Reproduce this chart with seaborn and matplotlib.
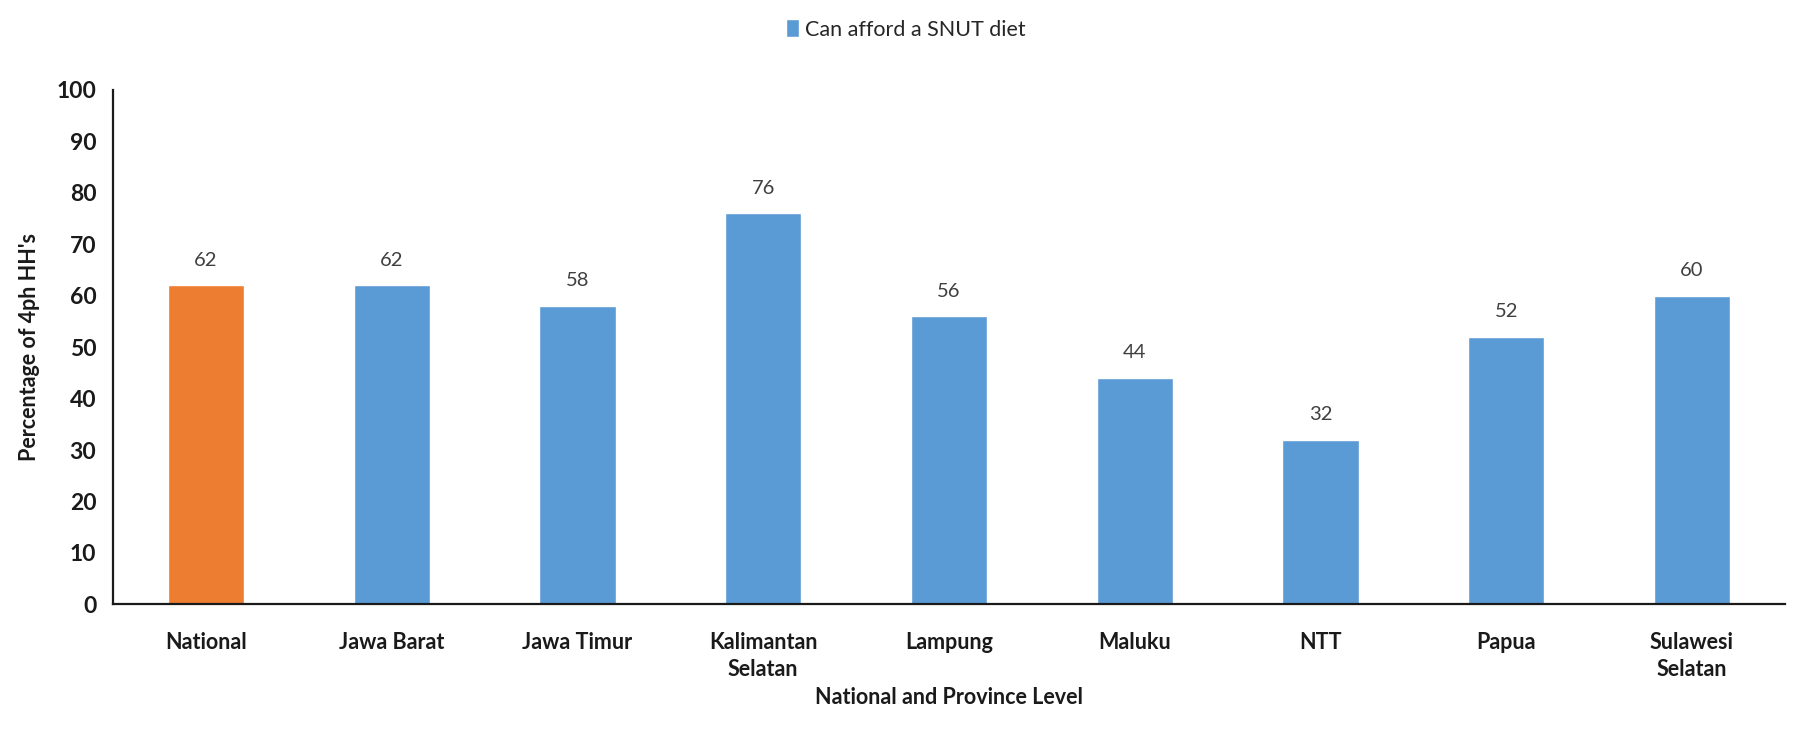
import matplotlib
matplotlib.use("Agg")
import matplotlib.pyplot as plt
from matplotlib.patches import Patch
import pandas as pd
import seaborn as sns

# values
regions = ["National", "Jawa Barat", "Jawa Timur", "Kalimantan\nSelatan", "Lampung",
           "Maluku", "NTT", "Papua", "Sulawesi\nSelatan"]
can_afford = [62, 62, 58, 76, 56, 44, 32, 52, 60]
y_ticks = [0, 10, 20, 30, 40, 50, 60, 70, 80, 90, 100]

BLUE = "#5B9BD5"
ORANGE = "#ED7D31"

df = pd.DataFrame({"region": regions, "pct": can_afford})
palette = {r: (ORANGE if r == "National" else BLUE) for r in regions}

sns.set_theme(style="white")
plt.rcParams["font.family"] = ["Lato", "DejaVu Sans"]

fig = plt.figure(figsize=(18.12, 7.37), dpi=100)
ax = fig.add_axes([0.0624, 0.180, 0.9226, 0.698])

sns.barplot(data=df, x="region", y="pct", hue="region", palette=palette,
            width=0.41, legend=False, saturation=1, ax=ax)

# value labels above the bars
for cont in ax.containers:
    ax.bar_label(cont, fmt="%d", padding=12, fontsize=14.5, color="#404040")

ax.set_ylim(0, 100)
ax.set_xlim(-0.5, len(regions) - 0.5)
ax.set_yticks(y_ticks)
ax.tick_params(axis="y", length=0, labelsize=16.5, pad=12)
ax.tick_params(axis="x", length=0, labelsize=15.5, pad=20)
for lbl in ax.get_xticklabels() + ax.get_yticklabels():
    lbl.set_fontweight("bold")
    lbl.set_color("#1a1a1a")
for lbl in ax.get_xticklabels():
    lbl.set_linespacing(1.35)

ax.set_xlabel("National and Province Level", fontsize=15.5, fontweight="bold",
              color="#1a1a1a", labelpad=5)
ax.set_ylabel("Percentage of 4ph HH's", fontsize=15.5, fontweight="bold",
              color="#1a1a1a", labelpad=12)

sns.despine(ax=ax)
for s in ["left", "bottom"]:
    ax.spines[s].set_color("#1a1a1a")
    ax.spines[s].set_linewidth(1.6)

fig.legend(handles=[Patch(facecolor=BLUE, label="Can afford a SNUT diet")],
           loc="upper center", bbox_to_anchor=(0.5, 1.0), frameon=False,
           fontsize=15.5, handlelength=0.6, handleheight=0.9, handletextpad=0.3)

fig.savefig("out.png", dpi=100)
